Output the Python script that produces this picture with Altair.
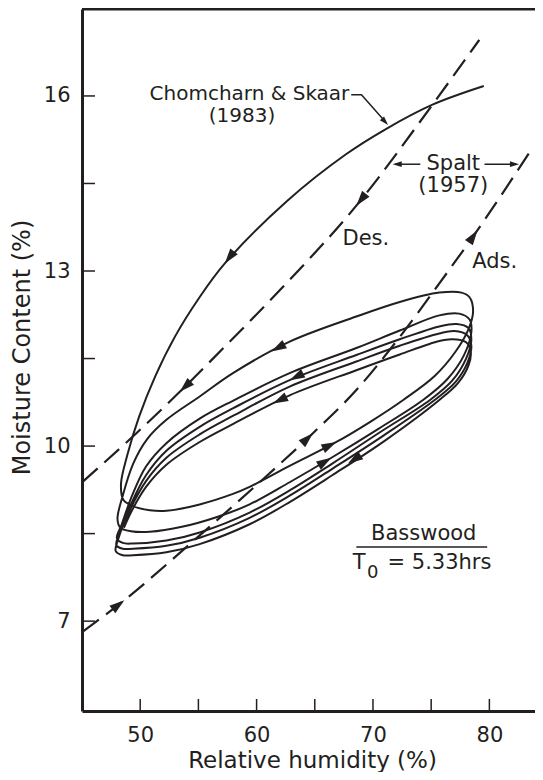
import math
import altair as alt
import pandas as pd

INK = "#231f20"
FONT = "DejaVu Sans"

X_MIN, X_MAX = 45.0, 83.92
Y_MIN, Y_MAX = 5.46, 17.49
W, H = 453, 702

x_tick_values = [50, 55, 60, 65, 70, 75, 80]
x_label_values = [50, 60, 70, 80]
y_tick_values = [7, 8.5, 10, 11.5, 13, 14.5, 16]
y_label_values = [7, 10, 13, 16]

# Chomcharn & Skaar (1983): descent into the first loop
chom_x = [79.52, 75.11, 71.0, 67.68, 62.62, 57.27, 55.0, 53.0, 51.3, 49.9,
          48.9, 48.35, 48.55, 49.38, 50.82, 52.25, 55.11, 57.97, 59.4]
chom_y = [16.17, 15.85, 15.42, 15.0, 14.2, 13.13, 12.52, 11.88, 11.2, 10.5,
          9.85, 9.35, 9.08, 8.97, 8.90, 8.89, 9.0, 9.18, 9.30]

# hysteresis loops, in path order
loop_x = [62.84, 66.86, 69.8, 72.6, 75.3, 77.1, 78.2, 78.6, 78.3, 77.6, 75.7, 72.3, 68.57, 62.84,
          57.97, 55.11, 52.25, 50.6, 49.4, 48.5, 48.05,
          48.3, 49.2, 50.82, 53.68, 56.54, 59.4, 62.84, 66.43, 70.5, 74.3, 76.4, 77.8, 78.45, 78.3,
          77.4, 75.7, 72.3, 68.57, 62.84, 58.0, 55.11, 52.25, 50.5, 49.3, 48.4, 48.0,
          48.5, 49.38, 52.25, 55.11, 59.4, 62.84, 66.5, 70.7, 74.9, 76.8, 78.0, 78.45, 78.2,
          77.2, 75.7, 72.3, 68.57, 62.84, 58.0, 55.11, 52.25, 50.5, 49.2, 48.2, 47.95,
          48.5, 49.38, 52.25, 55.11, 59.4, 62.84, 66.5, 70.9, 75.3, 77.1, 78.1, 78.45, 78.1,
          77.0, 75.7, 72.3, 68.57, 62.84, 58.0, 55.11, 52.25, 50.5, 49.1, 48.1, 47.9,
          48.5, 49.38, 52.25, 55.11, 59.4, 62.84, 66.5, 71.0, 75.7, 77.3, 78.2, 78.4, 78.0,
          76.8, 75.7, 72.3, 68.57, 62.84, 58.0, 55.11, 52.25, 50.5, 49.3, 48.6]
loop_y = [9.66, 10.07, 10.42, 10.79, 11.2, 11.62, 12.0, 12.3, 12.55, 12.63, 12.63, 12.47, 12.22, 11.79,
          11.25, 10.85, 10.45, 10.12, 9.7, 9.15, 8.75,
          8.6, 8.54, 8.53, 8.62, 8.78, 9.0, 9.38, 9.80, 10.3, 10.79, 11.15, 11.55, 11.95, 12.17,
          12.27, 12.24, 11.98, 11.68, 11.25, 10.78, 10.47, 10.05, 9.65, 9.15, 8.65, 8.42,
          8.34, 8.33, 8.38, 8.52, 8.86, 9.24, 9.70, 10.25, 10.79, 11.12, 11.5, 11.82, 12.02,
          12.09, 12.05, 11.83, 11.56, 11.13, 10.65, 10.33, 9.92, 9.5, 9.0, 8.5, 8.3,
          8.24, 8.24, 8.29, 8.43, 8.77, 9.15, 9.61, 10.18, 10.79, 11.1, 11.42, 11.72, 11.9,
          11.97, 11.93, 11.72, 11.45, 11.02, 10.52, 10.2, 9.8, 9.4, 8.9, 8.4, 8.2,
          8.13, 8.13, 8.18, 8.32, 8.66, 9.04, 9.50, 10.09, 10.79, 11.08, 11.38, 11.62, 11.78,
          11.83, 11.80, 11.57, 11.30, 10.87, 10.38, 10.07, 9.68, 9.3, 8.9, 8.6]

# Spalt (1957)
des_x = [45.07, 49.67, 53.4, 57.4, 62.13, 68.57, 75.11, 79.13]
des_y = [9.39, 10.22, 10.93, 11.73, 12.70, 14.12, 15.85, 16.96]
ads_x = [45.07, 48.64, 54.6, 59.98, 64.84, 68.57, 72.3, 75.6, 78.98, 83.54]
ads_y = [6.82, 7.36, 8.38, 9.33, 10.22, 10.96, 11.87, 12.76, 13.70, 15.06]

# arrowheads: position and direction (data units)
arrow_x = [57.27, 53.4, 68.57, 48.64, 64.84, 78.98, 61.27, 62.84, 61.41, 66.86, 66.43, 67.85,
           71.3, 71.69, 82.55]
arrow_y = [13.13, 10.93, 14.12, 7.36, 10.22, 13.70, 11.62, 11.13, 10.73, 10.07, 9.80, 9.70,
           15.5, 14.83, 14.83]
arrow_dx = [-1.15, -1, -1, 1, 1, 1, -1, -1, -1, 1, 1, -1, 2.3, -1, 1]
arrow_dy = [-0.3, -0.19, -0.25, 0.155, 0.19, 0.29, -0.11, -0.1, -0.1, 0.1, 0.12, -0.13, -0.5, 0, 0]
arrow_big = [1, 1, 1, 1, 1, 1, 1, 1, 1, 1, 1, 1, 0, 0, 0]

# leader lines and underline
lead_g = ["c", "c", "c", "sl", "sl", "sr", "sr", "u", "u"]
lead_x = [68.13, 69.01, 71.1, 74.07, 71.9, 79.58, 82.3, 68.57, 79.81]
lead_y = [16.02, 16.02, 15.55, 14.83, 14.83, 14.83, 14.83, 8.27, 8.27]

# texts
txt_left = ["Des.", "Ads.", "T", "= 5.33hrs"]
txt_left_x = [67.38, 78.53, 68.27, 71.25]
txt_left_y = [13.54, 13.15, 7.99, 7.99]
txt_right = ["Chomcharn & Skaar"]
txt_right_x = [67.97]
txt_right_y = [16.04]
txt_center = ["(1983)", "Spalt", "(1957)", "Basswood", "0"]
txt_center_x = [58.75, 76.9, 76.9, 74.36, 69.97]
txt_center_y = [15.65, 14.84, 14.46, 8.5, 7.82]
txt_center_fs = [20, 21, 21, 21, 18]


def xenc(field="x"):
    return alt.X(f"{field}:Q",
                 scale=alt.Scale(domain=[X_MIN, X_MAX], nice=False, zero=False),
                 axis=alt.Axis(values=x_label_values, title="Relative humidity (%)",
                               ticks=False, grid=False, labelFlush=False,
                               labelFontSize=21, labelPadding=13, labelFont=FONT, labelColor=INK,
                               titleFontSize=23, titleFontWeight="normal", titleFont=FONT,
                               titleColor=INK, titleY=56, titleX=230, titleBaseline="alphabetic",
                               domainWidth=3, domainColor=INK))


def yenc(field="y"):
    return alt.Y(f"{field}:Q",
                 scale=alt.Scale(domain=[Y_MIN, Y_MAX], nice=False, zero=False),
                 axis=alt.Axis(values=y_label_values, title="Moisture Content (%)",
                               ticks=False, grid=False, labelFlush=False,
                               labelFontSize=21, labelPadding=12, labelFont=FONT, labelColor=INK,
                               titleFontSize=24, titleFontWeight="normal", titleFont=FONT,
                               titleColor=INK, titleAngle=270, titleX=-53, titleY=338,
                               titleAlign="center", titleBaseline="alphabetic",
                               domainWidth=3, domainColor=INK))


kx = W / (X_MAX - X_MIN)
ky = H / (Y_MAX - Y_MIN)

path_x = chom_x + loop_x
path_y = chom_y + loop_y
hyst = pd.DataFrame({"x": path_x, "y": path_y, "o": list(range(len(path_x)))})

spalt = pd.DataFrame({
    "x": des_x + ads_x,
    "y": des_y + ads_y,
    "s": ["des"] * len(des_x) + ["ads"] * len(ads_x),
    "o": list(range(len(des_x))) + list(range(len(ads_x))),
})

angles = []
for dx, dy in zip(arrow_dx, arrow_dy):
    sx = dx * kx
    sy = -dy * ky
    angles.append(math.degrees(math.atan2(sx, -sy)) % 360)
arrows = pd.DataFrame({
    "x": arrow_x, "y": arrow_y, "angle": angles,
    "size": [360 if b else 130 for b in arrow_big],
})
ARROW = "M0,0L0.5,1.6L-0.5,1.6Z"

leaders = pd.DataFrame({"x": lead_x, "y": lead_y, "g": lead_g, "o": list(range(len(lead_x)))})

yt = pd.DataFrame({"y": y_tick_values})
xt = pd.DataFrame({"x": x_tick_values})

top_border = alt.Chart(pd.DataFrame({"y": [Y_MAX]})).mark_rule(color=INK, strokeWidth=3).encode(
    y=yenc(), x=alt.value(0), x2=alt.value(W))
y_ticks = alt.Chart(yt).mark_rule(color=INK, strokeWidth=1.5).encode(
    y=yenc(), x=alt.value(0), x2=alt.value(13))
x_ticks = alt.Chart(xt).mark_rule(color=INK, strokeWidth=1.5).encode(
    x=xenc(), y=alt.value(H), y2=alt.value(H - 12))

hyst_line = alt.Chart(hyst).mark_line(color=INK, strokeWidth=2, interpolate="catmull-rom").encode(
    x=xenc(), y=yenc(), order="o:Q")

spalt_lines = alt.Chart(spalt).mark_line(color=INK, strokeWidth=2.2, strokeDash=[20, 9],
                                         interpolate="monotone").encode(
    x=xenc(), y=yenc(), detail="s:N", order="o:Q")

leader_lines = alt.Chart(leaders).mark_line(color=INK, strokeWidth=1.5).encode(
    x=xenc(), y=yenc(), detail="g:N", order="o:Q")

arrow_marks = alt.Chart(arrows).mark_point(shape=ARROW, filled=True, color=INK, opacity=1,
                                           strokeWidth=0).encode(
    x=xenc(), y=yenc(),
    angle=alt.Angle("angle:Q", scale=None),
    size=alt.Size("size:Q", scale=None))

t_left = alt.Chart(pd.DataFrame({"t": txt_left, "x": txt_left_x, "y": txt_left_y})).mark_text(
    align="left", baseline="middle", font=FONT, fontSize=21, color=INK).encode(
    x=xenc(), y=yenc(), text="t:N")
t_right = alt.Chart(pd.DataFrame({"t": txt_right, "x": txt_right_x, "y": txt_right_y})).mark_text(
    align="right", baseline="middle", font=FONT, fontSize=20, color=INK).encode(
    x=xenc(), y=yenc(), text="t:N")
t_center = alt.Chart(pd.DataFrame({"t": txt_center, "x": txt_center_x, "y": txt_center_y,
                                   "fs": txt_center_fs})).mark_text(
    align="center", baseline="middle", font=FONT, color=INK).encode(
    x=xenc(), y=yenc(), text="t:N", size=alt.Size("fs:Q", scale=None))

chart = alt.layer(
    top_border, y_ticks, x_ticks, spalt_lines, hyst_line, leader_lines, arrow_marks,
    t_left, t_right, t_center,
).properties(
    width=W, height=H,
    autosize=alt.AutoSizeParams(type="none"),
    padding={"left": 74, "top": 1, "right": 0, "bottom": 61},
).configure_view(stroke="transparent")

chart.save("out.html", embed_options={"renderer": "svg", "actions": False})
